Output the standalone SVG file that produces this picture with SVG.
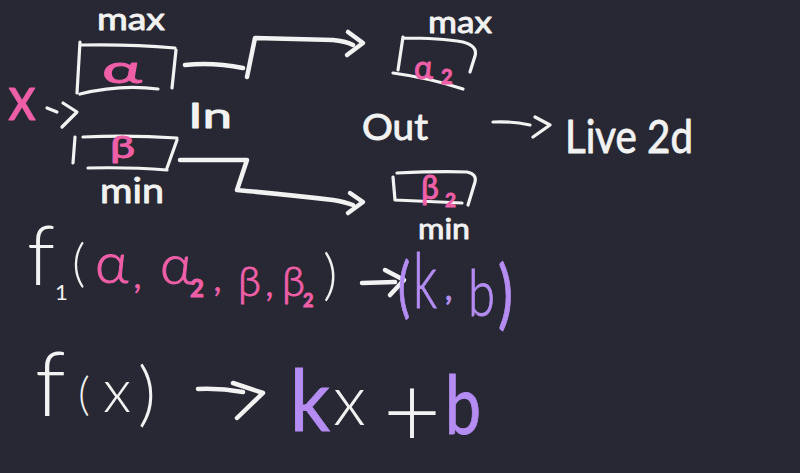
<svg xmlns="http://www.w3.org/2000/svg" width="800" height="473" viewBox="0 0 800 473">
<style>
.t{font-family:Lato,"Liberation Sans",Arial,sans-serif;fill:#f2f2f2}
.k{stroke:#f2f2f2;stroke-width:0.9;stroke-linejoin:round}
.L{font-weight:300}
.p{fill:#ee5fa7;stroke:#ee5fa7}
.v{fill:#b48cf2;stroke:#b48cf2}
.s{fill:none;stroke:#f2f2f2;stroke-width:3.2;stroke-linecap:round;stroke-linejoin:round}
.c{fill:none;stroke:#f2f2f2;stroke-width:4.5;stroke-linecap:round;stroke-linejoin:round}
</style>
<rect width="800" height="473" fill="#272833"/>

<g id="input-x">
<text class="t k p" x="8" y="120" font-size="62" textLength="28" lengthAdjust="spacingAndGlyphs">x</text>
<path class="s" d="M47,108 L57,112 M63,103 L77,112 L62,127"/>
</g>

<g id="box-alpha">
<text class="t k" x="97" y="30" font-size="31" textLength="68" lengthAdjust="spacingAndGlyphs">max</text>
<path class="s" d="M80,42 L77,93 M82,45 Q130,44 175,48 M176,50 L172,88 M80,94 Q120,84 158,89"/>
<text class="t k p" x="102" y="83" font-size="38" textLength="40" lengthAdjust="spacingAndGlyphs">α</text>
</g>

<g id="box-beta">
<path class="s" d="M75,137 L73,163 M83,137 Q130,135 177,138 M177,140 L167,168 M88,168 Q130,167 167,170"/>
<text class="t k p" x="110" y="158" font-size="30" textLength="25" lengthAdjust="spacingAndGlyphs">β</text>
<text class="t k" x="100" y="203" font-size="34" textLength="64" lengthAdjust="spacingAndGlyphs">min</text>
</g>

<g id="label-in">
<text class="t k" x="188" y="128" font-size="35" textLength="44" lengthAdjust="spacingAndGlyphs">In</text>
</g>

<g id="box-alpha2">
<text class="t k" x="428" y="33" font-size="31" textLength="64" lengthAdjust="spacingAndGlyphs">max</text>
<path class="s" d="M403,37 L398,70 M403,38 Q440,38 463,42 Q478,46 475,56 L470,72 M393,73 Q430,78 463,89"/>
<text class="t k p" x="414" y="79" font-size="32">α<tspan x="441" y="84" font-size="20" font-weight="bold">2</tspan></text>
</g>

<g id="box-beta2">
<path class="s" d="M393,177 L395,200 L462,203 M397,173 Q440,171 467,172 Q477,174 475,182 L468,205"/>
<text class="t k p" x="421" y="199" font-size="32">β<tspan x="445" y="207" font-size="19" font-weight="bold">2</tspan></text>
<text class="t k" x="418" y="239" font-size="29" textLength="52" lengthAdjust="spacingAndGlyphs">min</text>
</g>

<g id="label-out">
<text class="t k" x="362" y="140" font-size="36" textLength="66" lengthAdjust="spacingAndGlyphs">Out</text>
<path class="s" d="M493,122 Q512,121 530,125 M535,117 L550,125 L533,137"/>
</g>

<g id="live2d">
<text class="t k" x="565" y="153" font-size="46" textLength="128" lengthAdjust="spacingAndGlyphs">Live 2d</text>
</g>

<g id="connectors">
<path class="c" d="M185,65 Q213,62 243,68 M247,77 L255,38 Q300,39 333,40 Q345,41 353,45"/>
<path class="c" d="M348,32 L363,43 L347,55"/>
<path class="c" d="M180,160 L247,160 L237,190 Q290,195 333,200 Q345,202 353,205"/>
<path class="c" d="M350,193 L363,202 L348,213"/>
</g>

<g id="formula-1">
<text class="t L" x="27" y="285" font-size="82">f<tspan x="55" y="300" font-size="22" font-weight="400">1</tspan><tspan x="72" y="281" font-size="52">(</tspan></text>
<text class="t L p" x="95" y="283" font-size="58">α<tspan x="133" y="288" font-size="40">,</tspan><tspan x="160" y="284" font-size="56">α</tspan><tspan x="190" y="297" font-size="24" font-weight="bold">2</tspan><tspan x="213" y="291" font-size="40">,</tspan><tspan x="238" y="296" font-size="42">β</tspan><tspan x="265" y="296" font-size="40">,</tspan><tspan x="282" y="296" font-size="42">β</tspan><tspan x="303" y="307" font-size="18" font-weight="bold">2</tspan></text>
<text class="t L" x="323" y="294" font-size="56">)</text>
<path class="c" d="M362,283 L395,282 M385,270 L404,280 L390,295"/>
<text class="t v" x="398" y="310" font-size="66" textLength="12" lengthAdjust="spacingAndGlyphs">(</text>
<text class="t L v" x="413" y="308" font-size="76" textLength="24" lengthAdjust="spacingAndGlyphs">k</text>
<text class="t v" x="445" y="300" font-size="32">,</text>
<text class="t L v" x="468" y="316" font-size="66" textLength="27" lengthAdjust="spacingAndGlyphs">b</text>
<text class="t v" x="498" y="320" font-size="76" textLength="15" lengthAdjust="spacingAndGlyphs">)</text>
</g>

<g id="formula-2">
<text class="t L" x="35" y="416" font-size="90">f<tspan x="78" y="410" font-size="46">(</tspan><tspan x="103" y="412" font-size="60">x</tspan><tspan x="138" y="418" font-size="70">)</tspan></text>
<path class="c" d="M198,389 Q220,388 243,392 M233,383 L263,393 L237,418"/>
<text class="t v" x="290" y="431" font-size="86" textLength="40" lengthAdjust="spacingAndGlyphs">k</text>
<text class="t L" x="333" y="425" font-size="70">x</text>
<text class="t L" x="412" y="447" font-size="100" text-anchor="middle">+</text>
<text class="t v" x="445" y="434" font-size="82" textLength="36" lengthAdjust="spacingAndGlyphs">b</text>
</g>
</svg>
